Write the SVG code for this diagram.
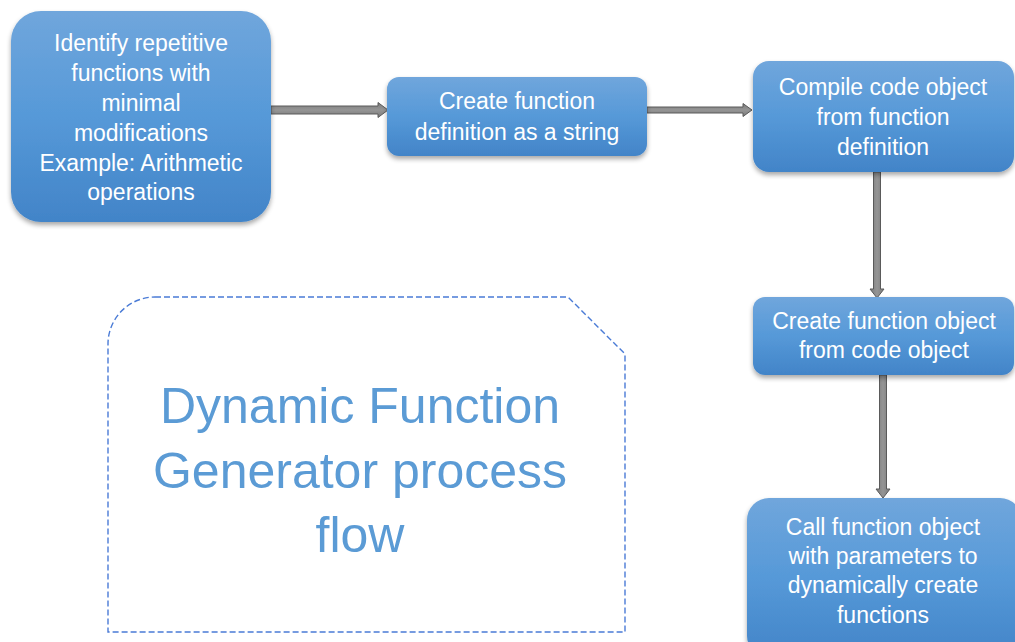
<svg xmlns="http://www.w3.org/2000/svg" width="1015" height="642" viewBox="0 0 1015 642">
<defs>
<linearGradient id="bg" x1="0" y1="0" x2="0" y2="1">
<stop offset="0" stop-color="#70a6dc"/>
<stop offset="0.5" stop-color="#5699d8"/>
<stop offset="1" stop-color="#4284c8"/>
</linearGradient>
<linearGradient id="ah" x1="0" y1="0" x2="0" y2="1">
<stop offset="0" stop-color="#7a7a7a"/>
<stop offset="0.5" stop-color="#959595"/>
<stop offset="1" stop-color="#7a7a7a"/>
</linearGradient>
<linearGradient id="av" x1="0" y1="0" x2="1" y2="0">
<stop offset="0" stop-color="#7a7a7a"/>
<stop offset="0.5" stop-color="#959595"/>
<stop offset="1" stop-color="#7a7a7a"/>
</linearGradient>
<filter id="sh" x="-10%" y="-10%" width="120%" height="130%">
<feGaussianBlur in="SourceAlpha" stdDeviation="2.5"/>
<feOffset dx="0" dy="3" result="b"/>
<feComponentTransfer><feFuncA type="linear" slope="0.35"/></feComponentTransfer>
<feMerge><feMergeNode/><feMergeNode in="SourceGraphic"/></feMerge>
</filter>
</defs>
<style>
.box{fill:url(#bg);filter:url(#sh);}
.t{font-family:"Liberation Sans",Arial,sans-serif;font-size:23px;fill:#ffffff;text-anchor:middle;}
.title{font-family:"Liberation Sans",Arial,sans-serif;font-size:50px;fill:#5b9bd5;text-anchor:middle;}
.arr{stroke:#5a5a5a;stroke-width:1;}
</style>
<rect width="1015" height="642" fill="#ffffff"/>
<g id="connectors">
<path class="arr" fill="url(#ah)" d="M271,106 L378,106 L378,102.5 L388,110 L378,117.5 L378,114 L271,114 Z"/>
<path class="arr" fill="url(#ah)" d="M647,107 L743,107 L743,103.5 L752,110 L743,116.5 L743,113 L647,113 Z"/>
<path class="arr" fill="url(#av)" d="M873.5,172 L873.5,289 L870,289 L877,298 L884,289 L880.5,289 L880.5,172 Z"/>
<path class="arr" fill="url(#av)" d="M879.5,375 L879.5,489 L876,489 L883,498 L890,489 L886.5,489 L886.5,375 Z"/>
</g>
<g id="frame">
<path d="M155,297 L568,297 L625,354 L625,632 L108,632 L108,344 A47,47 0 0 1 155,297 Z" fill="none" stroke="#4a7bd6" stroke-width="1.4" stroke-dasharray="6,3"/>
<text class="title" x="360" y="423">Dynamic Function</text>
<text class="title" x="360" y="488">Generator process</text>
<text class="title" x="360" y="552">flow</text>
</g>
<g id="n1">
<rect class="box" x="11" y="11" width="260" height="211" rx="30"/>
<text class="t" x="141" y="51">Identify repetitive</text>
<text class="t" x="141" y="81">functions with</text>
<text class="t" x="141" y="111">minimal</text>
<text class="t" x="141" y="141">modifications</text>
<text class="t" x="141" y="171">Example: Arithmetic</text>
<text class="t" x="141" y="200">operations</text>
</g>
<g id="n2">
<rect class="box" x="387" y="77" width="260" height="79" rx="12"/>
<text class="t" x="517" y="109">Create function</text>
<text class="t" x="517" y="140">definition as a string</text>
</g>
<g id="n3">
<rect class="box" x="753" y="61" width="261" height="111" rx="16"/>
<text class="t" x="883" y="95">Compile code object</text>
<text class="t" x="883" y="125">from function</text>
<text class="t" x="883" y="155">definition</text>
</g>
<g id="n4">
<rect class="box" x="753" y="297" width="261" height="78" rx="12"/>
<text class="t" x="884" y="329">Create function object</text>
<text class="t" x="884" y="358">from code object</text>
</g>
<g id="n5">
<rect class="box" x="747" y="498" width="275" height="160" rx="22"/>
<text class="t" x="883" y="535">Call function object</text>
<text class="t" x="883" y="564">with parameters to</text>
<text class="t" x="883" y="593">dynamically create</text>
<text class="t" x="883" y="623">functions</text>
</g>
</svg>
